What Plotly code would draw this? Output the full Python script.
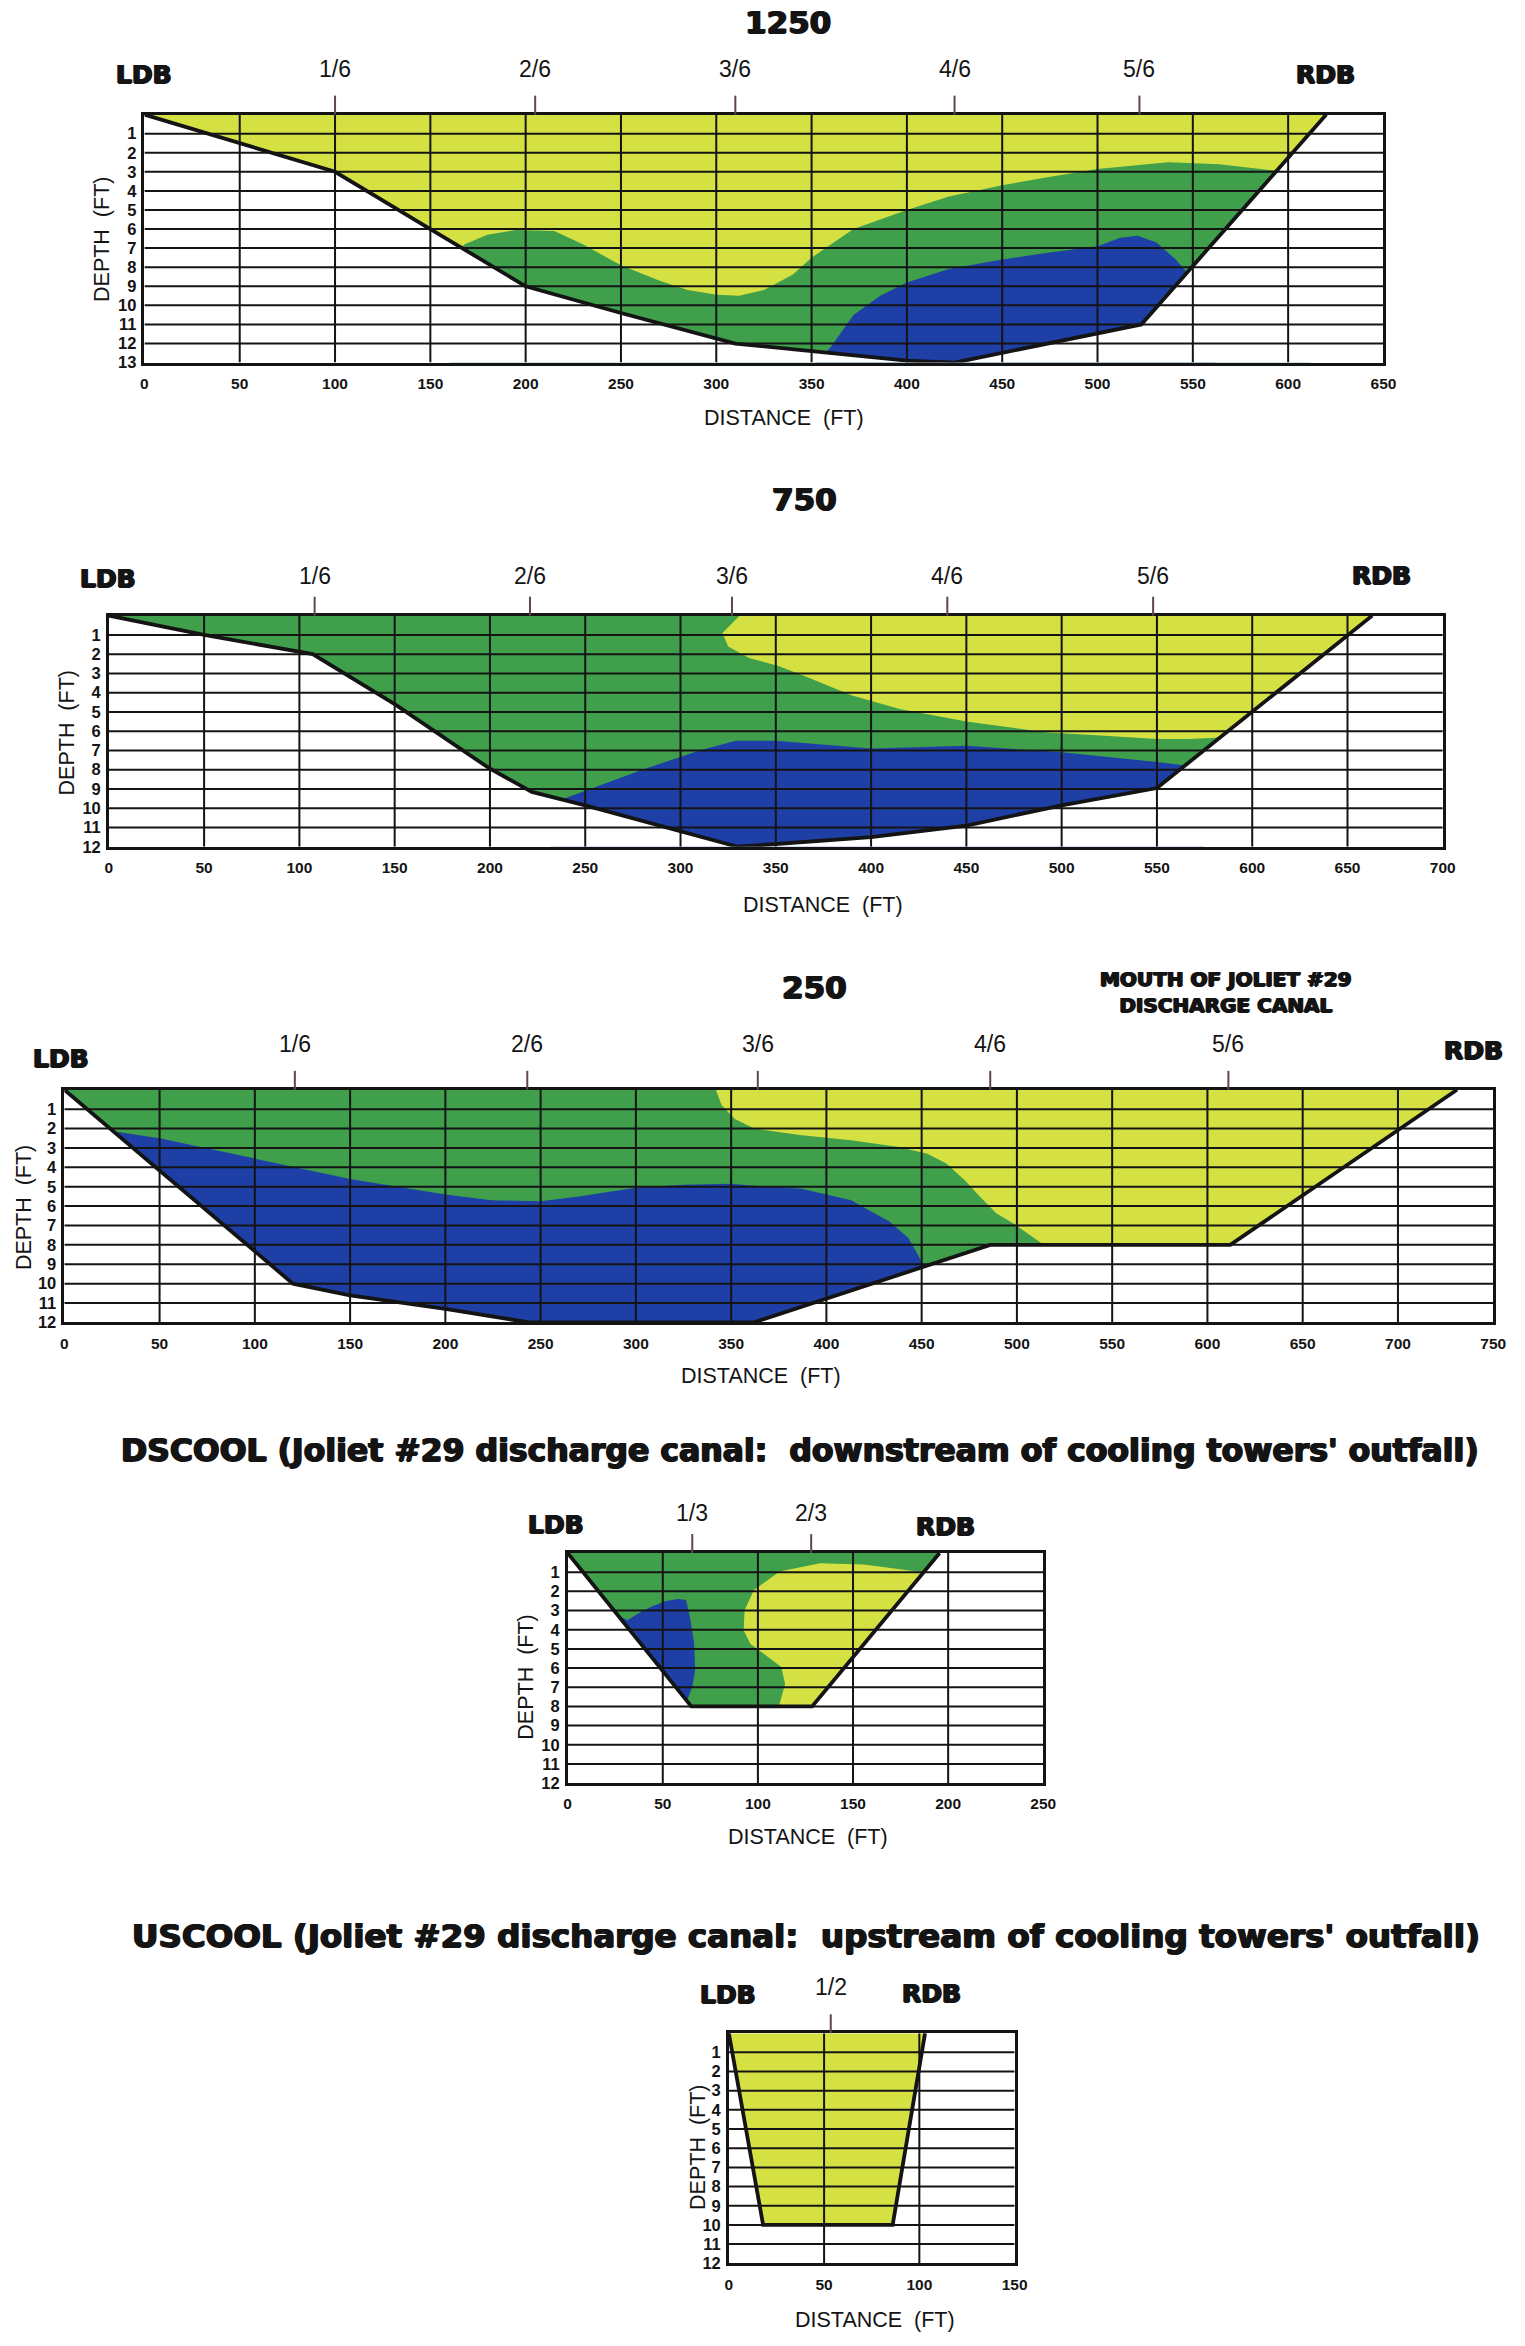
import plotly.graph_objects as go

W, H = 1525, 2346

YELLOW = "#d5e043"
GREEN = "#3f9f4b"
BLUE = "#1e3fa5"
INK = "#141414"
NARROW = "Liberation Sans Narrow, Arial Narrow, Liberation Sans, Arial, sans-serif"
HEAVY = "DejaVu Sans, Arial Black, sans-serif"
# thickens the bold face towards a black weight
HEAVY_SHADOW = "0.9px 0 0 #141414, -0.9px 0 0 #141414, 0 0.7px 0 #141414"

# ---------------- Transect 1250 ----------------
bed_1250_x = [0, 50, 100, 150, 200, 250, 310, 350, 400, 425, 523, 620]
bed_1250_d = [0, 1.5, 3, 6, 9, 10.4, 12, 12.4, 12.9, 13, 11, 0]
green_1250_x = [160, 168, 180, 195, 215, 230, 250, 270, 285, 300, 312, 325, 340,
                350, 372, 400, 422, 450, 473, 500, 537, 564, 590, 612]
green_1250_d = [7.6, 6.8, 6.3, 6.05, 6.1, 6.8, 7.9, 8.7, 9.2, 9.45, 9.5, 9.2, 8.4,
                7.5, 6.0, 5.0, 4.3, 3.7, 3.3, 2.85, 2.5, 2.6, 2.9, 3.0]
blue_1250_x = [352, 360, 372, 386, 400, 422, 450, 473, 500, 512, 521, 531, 541, 550, 562]
blue_1250_d = [13, 12.2, 10.5, 9.5, 8.8, 8.1, 7.6, 7.25, 6.9, 6.45, 6.35, 6.7, 7.6, 8.6, 9.6]
frac_1250_pos = [100, 205, 310, 425, 522]

# ---------------- Transect 750 ----------------
bed_750_x = [0, 50, 107, 150, 200, 222, 250, 300, 330, 400, 450, 500, 550, 663]
bed_750_d = [0, 1, 2, 4.6, 7.95, 9.15, 9.85, 11.2, 12, 11.5, 10.9, 9.85, 8.95, 0]
yellow_750_x = [331, 322, 325, 336, 351, 364, 390, 415, 450, 491, 516, 550, 567, 590, 620, 700]
yellow_750_d = [0, 0.9, 1.6, 2.2, 2.6, 3.1, 4.15, 4.85, 5.5, 6.05, 6.2, 6.4, 6.4, 6.3, 6.3, 6.3]
blue_750_x = [232, 239, 280, 310, 329, 350, 400, 450, 500, 529, 550, 575]
blue_750_d = [10.3, 9.5, 8.0, 7.0, 6.5, 6.5, 6.9, 6.75, 7.1, 7.4, 7.6, 7.9]
frac_750_pos = [108, 221, 327, 440, 548]

# ---------------- Transect 250 ----------------
bed_250_x = [0, 120, 150, 200, 244, 362, 486, 612, 731]
bed_250_d = [0, 10, 10.6, 11.3, 12, 12, 8, 8, 0]
blue_250_x = [12, 22, 50, 100, 150, 200, 224, 250, 270, 300, 325, 350, 362, 387,
              413, 433, 443, 448, 452, 460]
blue_250_d = [1.9, 2.09, 2.5, 3.55, 4.6, 5.4, 5.7, 5.75, 5.5, 5.05, 4.9, 4.85, 4.95, 5.1,
              5.7, 6.8, 7.65, 8.5, 9.3, 10.5]
yellow_250_x = [342, 345, 352, 362, 387, 413, 438, 453, 463, 473, 481, 489, 499, 509,
                514, 520, 750]
yellow_250_d = [0, 0.8, 1.5, 2.0, 2.35, 2.6, 2.95, 3.3, 3.8, 4.7, 5.55, 6.35, 6.95, 7.65,
                8.0, 8.6, 8.6]
frac_250_pos = [121, 243, 364, 486, 611]

# ---------------- DSCOOL ----------------
bed_ds_x = [0, 65, 128.5, 195.5]
bed_ds_d = [0, 8, 8, 0]
blue_ds_x = [22, 31.4, 38, 43.9, 51.6, 58, 62.2, 64.2, 66.5, 67, 65.5, 63.5, 62, 40]
blue_ds_d = [3.0, 3.5, 3.1, 2.8, 2.5, 2.4, 2.45, 3.3, 4.7, 6.1, 7.0, 7.5, 8.3, 8.3]
yellow_ds_x = [200, 183.6, 155.7, 132.6, 111.4, 97.9, 93, 92.5, 96, 105.6, 112.3,
               114.3, 112.3, 111, 111, 200]
yellow_ds_d = [0.9, 0.96, 0.6, 0.53, 0.96, 1.93, 2.98, 4.03, 4.73, 5.43, 5.95,
               6.83, 7.6, 8.0, 8.5, 8.5]
frac_ds_pos = [65.5, 128]

# ---------------- USCOOL ----------------
bed_us_x = [0, 18, 86, 103]
bed_us_d = [0, 10, 10, 0]
frac_us_pos = [53.5]

sixths = ["1/6", "2/6", "3/6", "4/6", "5/6"]
thirds = ["1/3", "2/3"]
halves = ["1/2"]


def fx(p):
    return p / W


def fy(p):
    return 1 - p / H


def heavy(size):
    return dict(family=HEAVY, size=size, color=INK, weight="bold", shadow=HEAVY_SHADOW)


panels = [
    dict(xmax=650, dmax=13, box=(142, 1395, 115, 364), bed=(bed_1250_x, bed_1250_d),
         base=YELLOW,
         zones=[(green_1250_x, green_1250_d, "below", GREEN),
                (blue_1250_x, blue_1250_d, "below", BLUE)],
         fracs=(frac_1250_pos, sixths), frac_y=69,
         title=("1250", 793, 22), ldb=(142, 75), rdb=(1336, 75),
         dist=(789, 420), depth=(99, 240)),
    dict(xmax=700, dmax=12, box=(106, 1455, 618, 850), bed=(bed_750_x, bed_750_d),
         base=GREEN,
         zones=[(yellow_750_x, yellow_750_d, "above", YELLOW),
                (blue_750_x, blue_750_d, "below", BLUE)],
         fracs=(frac_750_pos, sixths), frac_y=578,
         title=("750", 810, 501), ldb=(105, 581), rdb=(1393, 578),
         dist=(828, 908), depth=(64, 736)),
    dict(xmax=750, dmax=12, box=(61, 1506, 1094, 1327.5), bed=(bed_250_x, bed_250_d),
         base=GREEN,
         zones=[(blue_250_x, blue_250_d, "below", BLUE),
                (yellow_250_x, yellow_250_d, "above", YELLOW)],
         fracs=(frac_250_pos, sixths), frac_y=1048,
         title=("250", 820, 991), ldb=(58, 1063), rdb=(1486, 1055),
         dist=(766, 1381), depth=(21, 1212)),
    dict(xmax=250, dmax=12, box=(570, 1051, 1559, 1790), bed=(bed_ds_x, bed_ds_d),
         base=GREEN,
         zones=[(blue_ds_x, blue_ds_d, "closed", BLUE),
                (yellow_ds_x, yellow_ds_d, "closed", YELLOW)],
         fracs=(frac_ds_pos, thirds), frac_y=1519,
         title=None, ldb=(558, 1530), rdb=(952, 1532),
         dist=(813, 1844), depth=(527, 1684)),
    dict(xmax=150, dmax=12, box=(733, 1022, 2041, 2272), bed=(bed_us_x, bed_us_d),
         base=YELLOW, zones=[],
         fracs=(frac_us_pos, halves), frac_y=1995,
         title=None, ldb=(732, 2002), rdb=(938, 2001),
         dist=(881, 2329), depth=(702, 2156)),
]

fig = go.Figure()
annotations = []
shapes = []

for i, p in enumerate(panels, start=1):
    xr = "x" if i == 1 else f"x{i}"
    yr = "y" if i == 1 else f"y{i}"
    xmax, dmax = p["xmax"], p["dmax"]
    bx, bd = p["bed"]
    left, right, top, bottom = p["box"]
    common = dict(xaxis=xr, yaxis=yr, hoverinfo="skip", showlegend=False, mode="lines")
    deep = dmax + 1      # below the visible range, so fills reach the frame cleanly
    far = xmax + 20

    # water cross-section
    fig.add_trace(go.Scatter(x=bx + [bx[0]], y=bd + [bd[0]], fill="toself",
                             fillcolor=p["base"], line=dict(width=0), **common))
    # zones of the section
    for zx, zd, side, col in p["zones"]:
        if side == "below":
            px_, pd_ = zx + [zx[-1], zx[0]], zd + [deep, deep]
        elif side == "above":
            px_, pd_ = zx + [zx[-1], zx[0]], zd + [0, 0]
        else:
            px_, pd_ = zx + [zx[0]], zd + [zd[0]]
        fig.add_trace(go.Scatter(x=px_, y=pd_, fill="toself", fillcolor=col,
                                 line=dict(width=0), **common))
    # blank out everything below the channel bed
    fig.add_trace(go.Scatter(x=bx + [far, far, -20, -20], y=bd + [0, deep, deep, 0],
                             fill="toself", fillcolor="white", line=dict(width=0), **common))
    # grid drawn over the fills
    gx, gy = [], []
    for d in range(1, dmax):
        gx += [0, xmax, None]
        gy += [d, d, None]
    for xv in range(50, xmax, 50):
        gx += [xv, xv, None]
        gy += [0, dmax, None]
    fig.add_trace(go.Scatter(x=gx, y=gy, line=dict(color=INK, width=2), **common))
    # channel bed outline
    fig.add_trace(go.Scatter(x=bx, y=bd, line=dict(color=INK, width=3.8), **common))

    xd = [fx(left), fx(right)]
    yd = [fy(bottom), fy(top)]
    xkey = "xaxis" if i == 1 else f"xaxis{i}"
    ykey = "yaxis" if i == 1 else f"yaxis{i}"
    fig.update_layout(**{
        xkey: dict(domain=xd, anchor=yr, range=[0, xmax], showgrid=False, zeroline=False,
                   showline=True, mirror=True, linecolor=INK, linewidth=2.5,
                   tickvals=list(range(0, xmax + 1, 50)), ticks="",
                   ticklabelstandoff=5,
                   tickfont=dict(family=NARROW, size=15.5, color=INK, weight="bold"),
                   fixedrange=True),
        ykey: dict(domain=yd, anchor=xr, range=[dmax, 0], showgrid=False, zeroline=False,
                   showline=True, mirror=True, linecolor=INK, linewidth=2.5,
                   tickvals=list(range(1, dmax + 1)), ticks="",
                   ticklabelstandoff=2,
                   tickfont=dict(family=NARROW, size=16.5, color=INK, weight="bold"),
                   fixedrange=True),
    })

    # fraction markers along the water surface
    fpos, flbl = p["fracs"]
    for xv, lbl in zip(fpos, flbl):
        shapes.append(dict(type="line", xref=xr, yref="paper", x0=xv, x1=xv,
                           y0=fy(top), y1=fy(top - 19),
                           line=dict(color="#5c4658", width=2)))
        annotations.append(dict(text=lbl, xref=xr, yref="paper", x=xv, y=fy(p["frac_y"]),
                                showarrow=False, xanchor="center", yanchor="middle",
                                font=dict(family=NARROW, size=23, color=INK)))

    if p["title"]:
        t, tx, ty = p["title"]
        annotations.append(dict(text=t, xref="paper", yref="paper", x=fx(tx), y=fy(ty),
                                showarrow=False, xanchor="center", yanchor="middle",
                                font=heavy(31)))
    for lbl, (lx, ly) in (("LDB", p["ldb"]), ("RDB", p["rdb"])):
        annotations.append(dict(text=lbl, xref="paper", yref="paper", x=fx(lx), y=fy(ly),
                                showarrow=False, xanchor="center", yanchor="middle",
                                font=heavy(25)))
    dx, dy = p["dist"]
    annotations.append(dict(text="DISTANCE  (FT)", xref="paper", yref="paper",
                            x=fx(dx), y=fy(dy), showarrow=False,
                            xanchor="center", yanchor="middle",
                            font=dict(family=NARROW, size=21.5, color=INK)))
    ex, ey = p["depth"]
    annotations.append(dict(text="DEPTH  (FT)", xref="paper", yref="paper",
                            x=fx(ex), y=fy(ey), showarrow=False, textangle=-90,
                            xanchor="center", yanchor="middle",
                            font=dict(family=NARROW, size=21.5, color=INK)))

annotations.append(dict(text="MOUTH OF JOLIET #29<br>DISCHARGE CANAL", xref="paper",
                        yref="paper", x=fx(1236), y=fy(996), showarrow=False,
                        xanchor="center", yanchor="middle", font=heavy(20)))
annotations.append(dict(text="DSCOOL (Joliet #29 discharge canal:  downstream of cooling towers' outfall)",
                        xref="paper", yref="paper", x=fx(805), y=fy(1456), showarrow=False,
                        xanchor="center", yanchor="middle", font=heavy(31.5)))
annotations.append(dict(text="USCOOL (Joliet #29 discharge canal:  upstream of cooling towers' outfall)",
                        xref="paper", yref="paper", x=fx(811), y=fy(1943), showarrow=False,
                        xanchor="center", yanchor="middle", font=heavy(32.5)))

fig.update_layout(width=W, height=H, margin=dict(l=0, r=0, t=0, b=0),
                  paper_bgcolor="white", plot_bgcolor="white",
                  annotations=annotations, shapes=shapes)

fig.write_html("out.html", config={"displayModeBar": False})
